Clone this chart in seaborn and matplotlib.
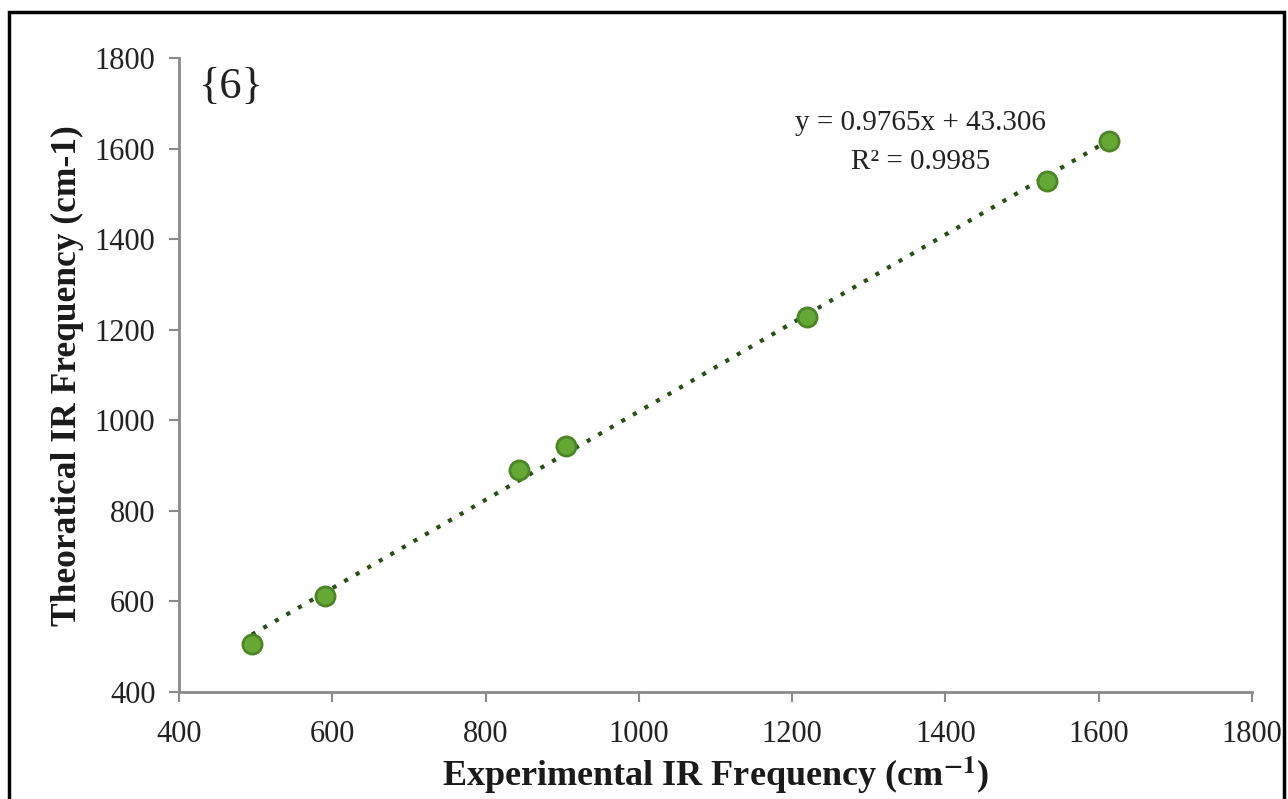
import matplotlib
matplotlib.use("Agg")
import matplotlib.pyplot as plt
import seaborn as sns
import numpy as np
import pandas as pd
from matplotlib.patches import Rectangle

# Data
experimental = [495, 591, 843, 905, 1220, 1532, 1613]
theoretical = [505, 611, 890, 944, 1229, 1530, 1617]
slope = 0.9765
intercept = 43.306
r2 = 0.9985
x_ticks = [400, 600, 800, 1000, 1200, 1400, 1600, 1800]
y_ticks = [400, 600, 800, 1000, 1200, 1400, 1600, 1800]

sns.set_theme(style="white")
plt.rcParams['font.family'] = ['Liberation Serif', 'DejaVu Serif']
plt.rcParams['mathtext.fontset'] = 'stix'

fig = plt.figure(figsize=(12.88, 7.99), dpi=100)
ax = fig.add_axes([0.139, 0.134, 0.833, 0.793])

df = pd.DataFrame({"x": experimental, "y": theoretical})

# trendline
xs = np.array([min(experimental), max(experimental)])
ax.plot(xs, slope * xs + intercept, linestyle=(0, (1, 2.2)), color="#2a4f15",
        linewidth=3, zorder=2)

sns.scatterplot(data=df, x="x", y="y", ax=ax, s=190, color="#66a834",
                edgecolor="#4b8526", linewidth=2, zorder=3)

ax.set_xlim(400, 1800)
ax.set_ylim(400, 1800)
ax.set_xticks(x_ticks)
ax.set_yticks(y_ticks)
ax.tick_params(axis="both", labelsize=22, colors="#222222", length=7, width=1.5,
               direction="out", bottom=True, left=True)
for lab in ax.get_xticklabels() + ax.get_yticklabels():
    lab.set_color("#222222")
ax.tick_params(axis="x", pad=13)
ax.tick_params(axis="y", pad=10)

for side in ["top", "right"]:
    ax.spines[side].set_visible(False)
for side in ["left", "bottom"]:
    ax.spines[side].set_color("#8a8a8a")
    ax.spines[side].set_linewidth(2)
ax.tick_params(color="#8a8a8a")

ax.set_xlabel("Experimental IR Frequency (cm$^{\\mathbf{-1}}$)", fontsize=26,
              fontweight="bold", color="#1a1a1a", labelpad=4)
ax.set_ylabel("Theoratical IR Frequency (cm-1)", fontsize=25.5, fontweight="bold",
              color="#1a1a1a", labelpad=8)

ax.text(1368, 1656, f"y = {slope}x + {intercept}", fontsize=21, ha="center",
        va="center", color="#222222")
ax.text(1368, 1572, f"R² = {r2}", fontsize=21, ha="center", va="center",
        color="#222222")
ax.text(468, 1737, "{6}", fontsize=32, ha="center", va="center", color="#222222")

fig.patches.append(Rectangle((0.007, -0.01), 0.99, 0.995, transform=fig.transFigure,
                             fill=False, edgecolor="black", linewidth=2.5))

fig.savefig("out.png", dpi=100)
